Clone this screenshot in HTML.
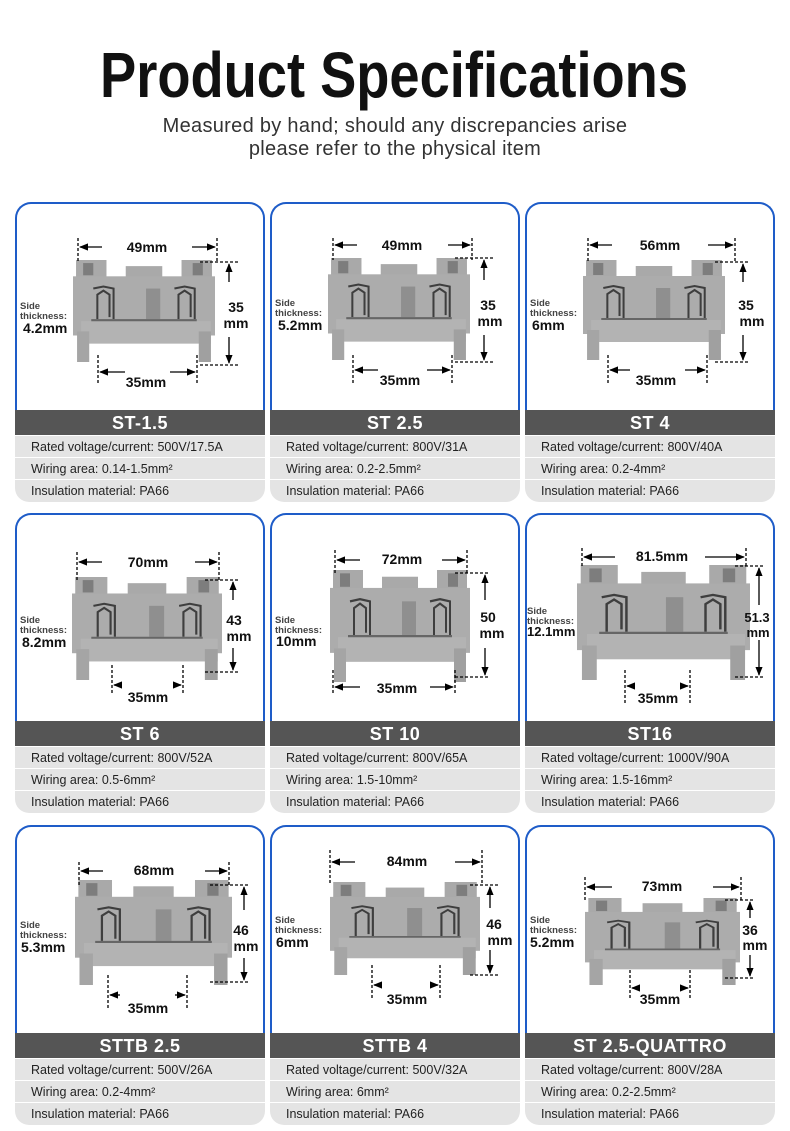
<!DOCTYPE html>
<html><head><meta charset="utf-8"><style>
body{margin:0;width:790px;height:1131px;background:#fff;position:relative;overflow:hidden;font-family:"Liberation Sans",sans-serif}
.sub{position:absolute;left:0;width:790px;text-align:center;font-size:20px;color:#333;letter-spacing:0.3px}
.card{position:absolute;width:250px;height:300px}
.img{position:absolute;left:0;top:0;width:246px;height:206px;border:2px solid #1e5cc8;border-bottom:none;border-radius:16px 16px 0 0;background:#fff}
.bar{position:absolute;left:0;top:208px;width:250px;height:25px;background:#555;color:#fff;font-weight:bold;font-size:18px;text-align:center;line-height:26px;letter-spacing:0.5px}
.row{position:absolute;left:0;width:250px;height:21px;background:#e4e4e4;font-size:12.5px;color:#222;line-height:22px;padding-left:16px;box-sizing:border-box}
.r1{top:234px}.r2{top:256px}.r3{top:278px;border-radius:0 0 14px 14px;height:22px}
svg{position:absolute;left:0;top:0}
</style></head><body>
<div class="sub" style="top:115px">Measured by hand; should any discrepancies arise</div>
<div class="sub" style="top:138px">please refer to the physical item</div>

<div class="card" style="left:15px;top:202px"><div class="img"></div><div class="bar">ST-1.5</div><div class="row r1">Rated voltage/current: 500V/17.5A</div><div class="row r2">Wiring area: 0.14-1.5mm²</div><div class="row r3">Insulation material: PA66</div></div>
<div class="card" style="left:270px;top:202px"><div class="img"></div><div class="bar">ST 2.5</div><div class="row r1">Rated voltage/current: 800V/31A</div><div class="row r2">Wiring area: 0.2-2.5mm²</div><div class="row r3">Insulation material: PA66</div></div>
<div class="card" style="left:525px;top:202px"><div class="img"></div><div class="bar">ST 4</div><div class="row r1">Rated voltage/current: 800V/40A</div><div class="row r2">Wiring area: 0.2-4mm²</div><div class="row r3">Insulation material: PA66</div></div>

<div class="card" style="left:15px;top:513px"><div class="img"></div><div class="bar">ST 6</div><div class="row r1">Rated voltage/current: 800V/52A</div><div class="row r2">Wiring area: 0.5-6mm²</div><div class="row r3">Insulation material: PA66</div></div>
<div class="card" style="left:270px;top:513px"><div class="img"></div><div class="bar">ST 10</div><div class="row r1">Rated voltage/current: 800V/65A</div><div class="row r2">Wiring area: 1.5-10mm²</div><div class="row r3">Insulation material: PA66</div></div>
<div class="card" style="left:525px;top:513px"><div class="img"></div><div class="bar">ST16</div><div class="row r1">Rated voltage/current: 1000V/90A</div><div class="row r2">Wiring area: 1.5-16mm²</div><div class="row r3">Insulation material: PA66</div></div>

<div class="card" style="left:15px;top:825px"><div class="img"></div><div class="bar">STTB 2.5</div><div class="row r1">Rated voltage/current: 500V/26A</div><div class="row r2">Wiring area: 0.2-4mm²</div><div class="row r3">Insulation material: PA66</div></div>
<div class="card" style="left:270px;top:825px"><div class="img"></div><div class="bar">STTB 4</div><div class="row r1">Rated voltage/current: 500V/32A</div><div class="row r2">Wiring area: 6mm²</div><div class="row r3">Insulation material: PA66</div></div>
<div class="card" style="left:525px;top:825px"><div class="img"></div><div class="bar">ST 2.5-QUATTRO</div><div class="row r1">Rated voltage/current: 800V/28A</div><div class="row r2">Wiring area: 0.2-2.5mm²</div><div class="row r3">Insulation material: PA66</div></div>

<svg width="790" height="1131" viewBox="0 0 790 1131">
<defs>
<symbol id="blk" viewBox="0 0 140 100" preserveAspectRatio="none">
<rect x="3" y="0" width="30" height="22" fill="#a9a9a9"/>
<rect x="107" y="0" width="30" height="22" fill="#a9a9a9"/>
<rect x="52" y="6" width="36" height="16" fill="#a9a9a9"/>
<rect x="0" y="16" width="140" height="58" fill="#acacac"/>
<rect x="8" y="60" width="128" height="22" fill="#b3b3b3"/>
<rect x="4" y="70" width="12" height="30" fill="#a5a5a5"/>
<rect x="124" y="70" width="12" height="30" fill="#a0a0a0"/>
<rect x="10" y="3" width="10" height="12" fill="#7d7d7d"/>
<rect x="118" y="3" width="10" height="12" fill="#7d7d7d"/>
<rect x="72" y="28" width="14" height="30" fill="#8f8f8f"/>
<path d="M20 28 L30 26 L40 28 L40 58 M24 58 L24 34 L30 30 L36 34 L36 56" stroke="#3e3e3e" stroke-width="2" fill="none"/>
<path d="M100 28 L110 26 L120 28 L120 58 M104 58 L104 34 L110 30 L116 34 L116 56" stroke="#3e3e3e" stroke-width="2" fill="none"/>
<line x1="18" y1="59" x2="122" y2="59" stroke="#666" stroke-width="2"/>
</symbol>
<marker id="ar" viewBox="0 0 10 10" refX="9" refY="5" markerWidth="7" markerHeight="7" orient="auto-start-reverse"><path d="M0 1 L10 5 L0 9z" fill="#000"/></marker>
</defs>
<text x="394" y="97" text-anchor="middle" font-size="64" font-weight="bold" fill="#111" textLength="588" lengthAdjust="spacingAndGlyphs" font-family="Liberation Sans">Product Specifications</text>

<g font-family="Liberation Sans" font-weight="bold" fill="#111" stroke="#000" stroke-width="1.3">
<!-- generic: per card -->
<!-- card1 -->
<use href="#blk" x="73" y="260" width="142" height="102" stroke="none"/>
<g fill="none" stroke-dasharray="3,2"><line x1="78" y1="238" x2="78" y2="262"/><line x1="217" y1="238" x2="217" y2="262"/><line x1="200" y1="262" x2="240" y2="262"/><line x1="200" y1="365" x2="240" y2="365"/><line x1="98" y1="355" x2="98" y2="385"/><line x1="197" y1="355" x2="197" y2="385"/></g>
<line x1="80" y1="247" x2="102" y2="247" marker-start="url(#ar)"/><line x1="192" y1="247" x2="215" y2="247" marker-end="url(#ar)"/>
<line x1="229" y1="282" x2="229" y2="264" marker-end="url(#ar)"/><line x1="229" y1="337" x2="229" y2="363" marker-end="url(#ar)"/>
<line x1="100" y1="372" x2="125" y2="372" marker-start="url(#ar)"/><line x1="170" y1="372" x2="195" y2="372" marker-end="url(#ar)"/>
<g stroke="none"><text x="147" y="252" font-size="14" text-anchor="middle">49mm</text><text x="146" y="387" font-size="14" text-anchor="middle">35mm</text><text x="236" y="312" font-size="14" text-anchor="middle">35</text><text x="236" y="328" font-size="14" text-anchor="middle">mm</text><text x="20" y="309" font-size="9.5" fill="#444">Side</text><text x="20" y="319" font-size="9.5" fill="#444">thickness:</text><text x="23" y="333" font-size="14">4.2mm</text></g>

<!-- card2 -->
<use href="#blk" x="328" y="258" width="142" height="102" stroke="none"/>
<g fill="none" stroke-dasharray="3,2"><line x1="333" y1="238" x2="333" y2="260"/><line x1="472" y1="238" x2="472" y2="260"/><line x1="455" y1="258" x2="495" y2="258"/><line x1="455" y1="362" x2="495" y2="362"/><line x1="353" y1="355" x2="353" y2="385"/><line x1="452" y1="355" x2="452" y2="385"/></g>
<line x1="335" y1="245" x2="357" y2="245" marker-start="url(#ar)"/><line x1="448" y1="245" x2="470" y2="245" marker-end="url(#ar)"/>
<line x1="484" y1="280" x2="484" y2="260" marker-end="url(#ar)"/><line x1="484" y1="335" x2="484" y2="360" marker-end="url(#ar)"/>
<line x1="355" y1="370" x2="378" y2="370" marker-start="url(#ar)"/><line x1="427" y1="370" x2="450" y2="370" marker-end="url(#ar)"/>
<g stroke="none"><text x="402" y="250" font-size="14" text-anchor="middle">49mm</text><text x="400" y="385" font-size="14" text-anchor="middle">35mm</text><text x="488" y="310" font-size="14" text-anchor="middle">35</text><text x="490" y="326" font-size="14" text-anchor="middle">mm</text><text x="275" y="306" font-size="9.5" fill="#444">Side</text><text x="275" y="316" font-size="9.5" fill="#444">thickness:</text><text x="278" y="330" font-size="14">5.2mm</text></g>

<!-- card3 -->
<use href="#blk" x="583" y="260" width="142" height="100" stroke="none"/>
<g fill="none" stroke-dasharray="3,2"><line x1="588" y1="238" x2="588" y2="262"/><line x1="735" y1="238" x2="735" y2="262"/><line x1="715" y1="262" x2="750" y2="262"/><line x1="715" y1="362" x2="750" y2="362"/><line x1="608" y1="355" x2="608" y2="385"/><line x1="707" y1="355" x2="707" y2="385"/></g>
<line x1="590" y1="245" x2="612" y2="245" marker-start="url(#ar)"/><line x1="708" y1="245" x2="733" y2="245" marker-end="url(#ar)"/>
<line x1="743" y1="282" x2="743" y2="264" marker-end="url(#ar)"/><line x1="743" y1="335" x2="743" y2="360" marker-end="url(#ar)"/>
<line x1="610" y1="370" x2="630" y2="370" marker-start="url(#ar)"/><line x1="685" y1="370" x2="705" y2="370" marker-end="url(#ar)"/>
<g stroke="none"><text x="660" y="250" font-size="14" text-anchor="middle">56mm</text><text x="656" y="385" font-size="14" text-anchor="middle">35mm</text><text x="746" y="310" font-size="14" text-anchor="middle">35</text><text x="752" y="326" font-size="14" text-anchor="middle">mm</text><text x="530" y="306" font-size="9.5" fill="#444">Side</text><text x="530" y="316" font-size="9.5" fill="#444">thickness:</text><text x="532" y="330" font-size="14">6mm</text></g>

<!-- card4 -->
<use href="#blk" x="72" y="577" width="150" height="103" stroke="none"/>
<g fill="none" stroke-dasharray="3,2"><line x1="77" y1="552" x2="77" y2="580"/><line x1="219" y1="552" x2="219" y2="580"/><line x1="205" y1="580" x2="240" y2="580"/><line x1="205" y1="672" x2="240" y2="672"/><line x1="112" y1="665" x2="112" y2="695"/><line x1="183" y1="665" x2="183" y2="695"/></g>
<line x1="79" y1="562" x2="102" y2="562" marker-start="url(#ar)"/><line x1="195" y1="562" x2="217" y2="562" marker-end="url(#ar)"/>
<line x1="233" y1="600" x2="233" y2="582" marker-end="url(#ar)"/><line x1="233" y1="648" x2="233" y2="670" marker-end="url(#ar)"/>
<line x1="114" y1="685" x2="120" y2="685" marker-start="url(#ar)"/><line x1="175" y1="685" x2="181" y2="685" marker-end="url(#ar)"/>
<g stroke="none"><text x="148" y="567" font-size="14" text-anchor="middle">70mm</text><text x="148" y="702" font-size="14" text-anchor="middle">35mm</text><text x="234" y="625" font-size="14" text-anchor="middle">43</text><text x="239" y="641" font-size="14" text-anchor="middle">mm</text><text x="20" y="623" font-size="9.5" fill="#444">Side</text><text x="20" y="633" font-size="9.5" fill="#444">thickness:</text><text x="22" y="647" font-size="14">8.2mm</text></g>

<!-- card5 -->
<use href="#blk" x="330" y="570" width="140" height="112" stroke="none"/>
<g fill="none" stroke-dasharray="3,2"><line x1="335" y1="550" x2="335" y2="575"/><line x1="467" y1="550" x2="467" y2="575"/><line x1="455" y1="573" x2="490" y2="573"/><line x1="455" y1="677" x2="490" y2="677"/><line x1="333" y1="670" x2="333" y2="695"/><line x1="455" y1="670" x2="455" y2="695"/></g>
<line x1="337" y1="560" x2="360" y2="560" marker-start="url(#ar)"/><line x1="442" y1="560" x2="465" y2="560" marker-end="url(#ar)"/>
<line x1="485" y1="600" x2="485" y2="575" marker-end="url(#ar)"/><line x1="485" y1="648" x2="485" y2="675" marker-end="url(#ar)"/>
<line x1="335" y1="687" x2="360" y2="687" marker-start="url(#ar)"/><line x1="430" y1="687" x2="453" y2="687" marker-end="url(#ar)"/>
<g stroke="none"><text x="402" y="564" font-size="14" text-anchor="middle">72mm</text><text x="397" y="693" font-size="14" text-anchor="middle">35mm</text><text x="488" y="622" font-size="14" text-anchor="middle">50</text><text x="492" y="638" font-size="14" text-anchor="middle">mm</text><text x="275" y="623" font-size="9.5" fill="#444">Side</text><text x="275" y="633" font-size="9.5" fill="#444">thickness:</text><text x="276" y="646" font-size="14">10mm</text></g>

<!-- card6 -->
<use href="#blk" x="577" y="565" width="173" height="115" stroke="none"/>
<g fill="none" stroke-dasharray="3,2"><line x1="582" y1="548" x2="582" y2="568"/><line x1="746" y1="548" x2="746" y2="568"/><line x1="735" y1="566" x2="765" y2="566"/><line x1="735" y1="677" x2="765" y2="677"/><line x1="625" y1="670" x2="625" y2="705"/><line x1="690" y1="670" x2="690" y2="705"/></g>
<line x1="584" y1="557" x2="615" y2="557" marker-start="url(#ar)"/><line x1="705" y1="557" x2="744" y2="557" marker-end="url(#ar)"/>
<line x1="759" y1="605" x2="759" y2="568" marker-end="url(#ar)"/><line x1="759" y1="640" x2="759" y2="675" marker-end="url(#ar)"/>
<line x1="627" y1="686" x2="633" y2="686" marker-start="url(#ar)"/><line x1="682" y1="686" x2="688" y2="686" marker-end="url(#ar)"/>
<g stroke="none"><text x="662" y="561" font-size="14" text-anchor="middle">81.5mm</text><text x="658" y="703" font-size="14" text-anchor="middle">35mm</text><text x="757" y="622" font-size="13" text-anchor="middle">51.3</text><text x="758" y="637" font-size="13" text-anchor="middle">mm</text><text x="527" y="614" font-size="9.5" fill="#444">Side</text><text x="527" y="624" font-size="9.5" fill="#444">thickness:</text><text x="527" y="636" font-size="13">12.1mm</text></g>

<!-- card7 -->
<use href="#blk" x="75" y="880" width="157" height="105" stroke="none"/>
<g fill="none" stroke-dasharray="3,2"><line x1="79" y1="862" x2="79" y2="885"/><line x1="229" y1="862" x2="229" y2="885"/><line x1="210" y1="885" x2="250" y2="885"/><line x1="210" y1="982" x2="250" y2="982"/><line x1="108" y1="975" x2="108" y2="1010"/><line x1="187" y1="975" x2="187" y2="1010"/></g>
<line x1="81" y1="871" x2="103" y2="871" marker-start="url(#ar)"/><line x1="205" y1="871" x2="227" y2="871" marker-end="url(#ar)"/>
<line x1="244" y1="910" x2="244" y2="887" marker-end="url(#ar)"/><line x1="244" y1="958" x2="244" y2="980" marker-end="url(#ar)"/>
<line x1="110" y1="995" x2="120" y2="995" marker-start="url(#ar)"/><line x1="175" y1="995" x2="185" y2="995" marker-end="url(#ar)"/>
<g stroke="none"><text x="154" y="875" font-size="14" text-anchor="middle">68mm</text><text x="148" y="1013" font-size="14" text-anchor="middle">35mm</text><text x="241" y="935" font-size="14" text-anchor="middle">46</text><text x="246" y="951" font-size="14" text-anchor="middle">mm</text><text x="20" y="928" font-size="9.5" fill="#444">Side</text><text x="20" y="938" font-size="9.5" fill="#444">thickness:</text><text x="21" y="952" font-size="14">5.3mm</text></g>

<!-- card8 -->
<use href="#blk" x="330" y="882" width="150" height="93" stroke="none"/>
<g fill="none" stroke-dasharray="3,2"><line x1="330" y1="850" x2="330" y2="885"/><line x1="482" y1="850" x2="482" y2="885"/><line x1="470" y1="885" x2="500" y2="885"/><line x1="470" y1="975" x2="500" y2="975"/><line x1="372" y1="965" x2="372" y2="1000"/><line x1="440" y1="965" x2="440" y2="1000"/></g>
<line x1="332" y1="862" x2="355" y2="862" marker-start="url(#ar)"/><line x1="455" y1="862" x2="480" y2="862" marker-end="url(#ar)"/>
<line x1="490" y1="908" x2="490" y2="887" marker-end="url(#ar)"/><line x1="490" y1="950" x2="490" y2="973" marker-end="url(#ar)"/>
<line x1="374" y1="985" x2="382" y2="985" marker-start="url(#ar)"/><line x1="430" y1="985" x2="438" y2="985" marker-end="url(#ar)"/>
<g stroke="none"><text x="407" y="866" font-size="14" text-anchor="middle">84mm</text><text x="407" y="1004" font-size="14" text-anchor="middle">35mm</text><text x="494" y="929" font-size="14" text-anchor="middle">46</text><text x="500" y="945" font-size="14" text-anchor="middle">mm</text><text x="275" y="923" font-size="9.5" fill="#444">Side</text><text x="275" y="933" font-size="9.5" fill="#444">thickness:</text><text x="276" y="947" font-size="14">6mm</text></g>

<!-- card9 -->
<use href="#blk" x="585" y="898" width="155" height="87" stroke="none"/>
<g fill="none" stroke-dasharray="3,2"><line x1="585" y1="877" x2="585" y2="900"/><line x1="741" y1="877" x2="741" y2="900"/><line x1="725" y1="900" x2="755" y2="900"/><line x1="725" y1="978" x2="755" y2="978"/><line x1="630" y1="970" x2="630" y2="1000"/><line x1="690" y1="970" x2="690" y2="1000"/></g>
<line x1="587" y1="887" x2="612" y2="887" marker-start="url(#ar)"/><line x1="713" y1="887" x2="739" y2="887" marker-end="url(#ar)"/>
<line x1="750" y1="918" x2="750" y2="902" marker-end="url(#ar)"/><line x1="750" y1="955" x2="750" y2="976" marker-end="url(#ar)"/>
<line x1="632" y1="988" x2="638" y2="988" marker-start="url(#ar)"/><line x1="682" y1="988" x2="688" y2="988" marker-end="url(#ar)"/>
<g stroke="none"><text x="662" y="891" font-size="14" text-anchor="middle">73mm</text><text x="660" y="1004" font-size="14" text-anchor="middle">35mm</text><text x="750" y="935" font-size="14" text-anchor="middle">36</text><text x="755" y="950" font-size="14" text-anchor="middle">mm</text><text x="530" y="923" font-size="9.5" fill="#444">Side</text><text x="530" y="933" font-size="9.5" fill="#444">thickness:</text><text x="530" y="947" font-size="14">5.2mm</text></g>
</g>
</svg>
</body></html>
